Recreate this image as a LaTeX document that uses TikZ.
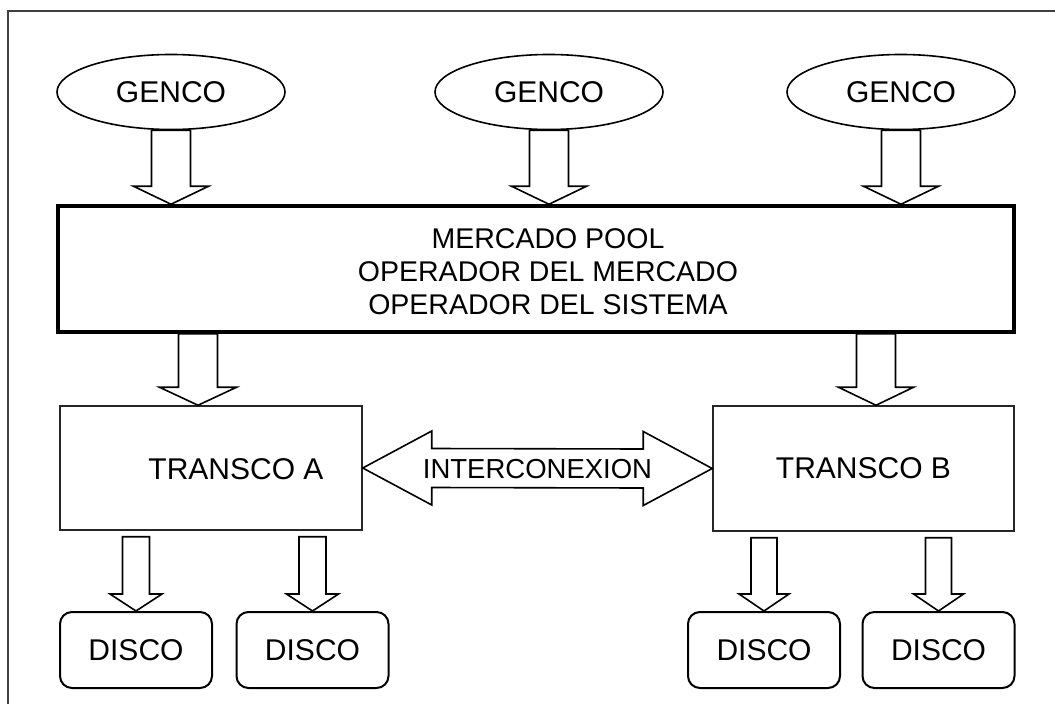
\documentclass[tikz,border=0pt]{standalone}
\usepackage{fontspec}
\setmainfont{Liberation Sans}
\usetikzlibrary{shapes.geometric,calc}
\newcommand\blockdown[5]{%
  \draw[barrow] ($#1+(-#3,0)$) -- ($#2+(-#3,-#5)$) -- ($#2+(-#4,-#5)$) -- #2
    -- ($#2+(#4,-#5)$) -- ($#2+(#3,-#5)$) -- ($#1+(#3,0)$) -- cycle;}
\tikzset{
  frameline/.style={draw=black!75, line width=1.5pt},
  genco/.style={ellipse, draw, line width=1.6pt, fill=white, inner sep=0pt,
    minimum width=228pt, minimum height=75pt, font=\fontsize{30}{32}\selectfont},
  mpbox/.style={rectangle, draw, line width=3.5pt, inner sep=0pt},
  txt/.style={align=center, font=\fontsize{28.5}{33}\selectfont, inner sep=0pt},
  bigtxt/.style={font=\fontsize{30}{32}\selectfont, inner sep=0pt},
  transco/.style={rectangle, draw=black!85, line width=1.5pt, inner sep=0pt,
    font=\fontsize{30}{32}\selectfont},
  disco/.style={rectangle, rounded corners=12pt, draw, line width=2pt, inner sep=0pt,
    minimum width=152pt, minimum height=76pt, font=\fontsize{30}{32}\selectfont},
  barrow/.style={draw, line width=1.6pt, fill=white, line join=miter},
}
\begin{document}
\begin{tikzpicture}[x=1pt,y=-1pt]
\useasboundingbox (0,0) rectangle (1055,704);
\begin{scope}
  \clip (0,0) rectangle (1055,704);
  \draw[frameline] (8,11) rectangle (1080,730);
\end{scope}
% GENCO
\node[genco] (g1) at (171,92) {GENCO};
\node[genco] (g2) at (549,92) {GENCO};
\node[genco] (g3) at (901,92) {GENCO};
% pool
\node[mpbox, minimum width=956pt, minimum height=126pt] (mp) at (536,269) {};
\node[txt] (mptxt) at (548,272) {MERCADO POOL\\OPERADOR DEL MERCADO\\OPERADOR DEL SISTEMA};
% transco
\node[transco, minimum width=302pt, minimum height=124pt] (ta) at (211,468) {};
\node[bigtxt] (tatxt) at (236,469) {TRANSCO A};
\node[transco, minimum width=301pt, minimum height=125pt] (tb) at (863.5,468.5) {TRANSCO B};
% disco
\node[disco] (d1) at (136,650) {DISCO};
\node[disco] (d2) at (312.5,650) {DISCO};
\node[disco] (d3) at (764,650) {DISCO};
\node[disco] (d4) at (938.5,650) {DISCO};
% arrows GENCO -> pool
\coordinate (g1e) at (g1.south |- mp.north);
\coordinate (g2e) at (g2.south |- mp.north);
\coordinate (g3e) at (g3.south |- mp.north);
\blockdown{(g1.south)}{(g1e)}{19.5}{37.5}{18}
\blockdown{(g2.south)}{(g2e)}{19.5}{37.5}{18}
\blockdown{(g3.south)}{(g3e)}{19.5}{37.5}{18}
% pool -> transco
\coordinate (pa) at (198,0 |- mp.south);
\coordinate (pat) at (198,0 |- ta.north);
\coordinate (pb) at (876,0 |- mp.south);
\coordinate (pbt) at (876,0 |- tb.north);
\blockdown{(pa)}{(pat)}{19.5}{38.5}{18}
\blockdown{(pb)}{(pbt)}{19.5}{37.5}{18}
% transco -> disco
\coordinate (d1s) at ($(d1.north |- ta.south)+(0,6)$);
\coordinate (d2s) at ($(d2.north |- ta.south)+(0,6)$);
\coordinate (d3s) at ($(d3.north |- tb.south)+(0,6)$);
\coordinate (d4s) at ($(d4.north |- tb.south)+(0,6)$);
\blockdown{(d1s)}{(d1.north)}{13.5}{26}{17}
\blockdown{(d2s)}{(d2.north)}{13.5}{26}{17}
\blockdown{(d3s)}{(d3.north)}{13}{25}{17}
\blockdown{(d4s)}{(d4.north)}{13}{25}{17}
% interconexion
\draw[barrow] (ta.east) -- ($(ta.east)+(69,-37)$) -- ($(ta.east)+(69,-19.5)$)
  -- ($(tb.west)+(-69,-19.5)$) -- ($(tb.west)+(-69,-37)$) -- (tb.west)
  -- ($(tb.west)+(-69,37)$) -- ($(tb.west)+(-69,19.5)$)
  -- ($(ta.east)+(69,19.5)$) -- ($(ta.east)+(69,37)$) -- cycle;
\node[font=\fontsize{27.5}{30}\selectfont, inner sep=0pt] (ic) at ($(ta.east)!0.5!(tb.west)+(0,1)$) {INTERCONEXION};
\end{tikzpicture}
\end{document}
